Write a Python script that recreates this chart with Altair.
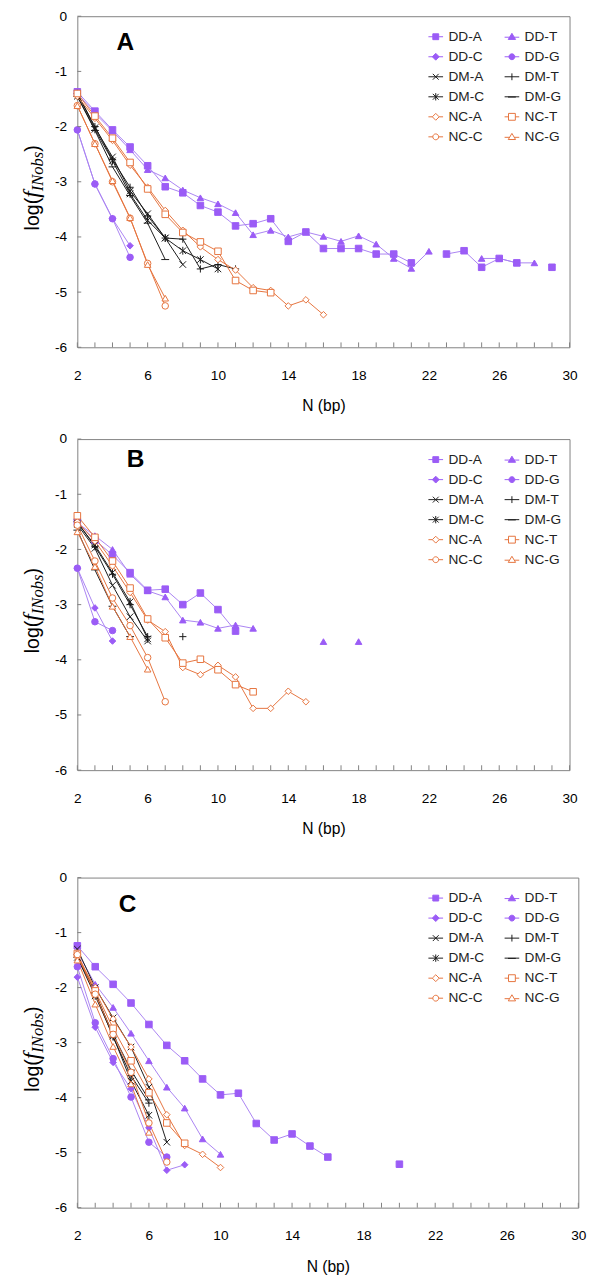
import altair as alt
import pandas as pd

FONT = "Liberation Sans"
SERIF = "Liberation Serif"
PURPLE = "#9b5cf6"
PURPLE_LINE = "#a982f2"
ORANGE = "#e5733c"
BLACK = "#1a1a1a"
AXIS_GRAY = "#808080"

N0 = 2
SERIES = ["DD-A", "DD-T", "DD-C", "DD-G", "DM-A", "DM-T", "DM-C", "DM-G",
          "NC-A", "NC-T", "NC-C", "NC-G"]
X_TICK_LABELS = [2, 6, 10, 14, 18, 22, 26, 30]
TICKS_X = list(range(2, 31))
TICKS_Y = [-6, -5, -4, -3, -2, -1, 0]

# ---- Panel A (values from N = 2 upward; None = no point) ----
A_VALUES = {
    "DD-A": [-1.37, -1.72, -2.06, -2.37, -2.71, -3.09, -3.20, -3.43, -3.55, -3.80, -3.76, -3.67,
             -4.08, -3.91, -4.21, -4.21, -4.21, -4.31, -4.31, -4.47, None, -4.31, -4.25, -4.55,
             -4.39, -4.47, None, -4.55],
    "DD-T": [-1.40, -1.76, -2.08, -2.42, -2.78, -2.93, -3.15, -3.29, -3.40, -3.56, -3.96, -3.88,
             -4.00, -3.91, -3.99, -4.08, -3.98, -4.13, -4.39, -4.57, -4.26, None, None, -4.39,
             -4.39, -4.47, -4.47],
    "DD-C": [-2.06, -3.04, -3.67, -4.16],
    "DD-G": [-2.06, -3.04, -3.67, -4.37],
    "DM-A": [-1.40, -2.02, -2.55, -3.17, -3.58, -4.02, -4.50],
    "DM-T": [-1.40, -2.00, -2.60, -3.10, -3.62, -4.02, -4.04, -4.58, -4.50, -4.58],
    "DM-C": [-1.45, -2.05, -2.62, -3.22, -3.70, -4.02, -4.25, -4.41, -4.58],
    "DM-G": [-1.45, -2.07, -2.73, -3.25, -3.75, -4.41],
    "NC-A": [-1.45, -1.85, -2.25, -2.70, -3.10, -3.52, -3.88, -4.18, -4.41, -4.60, -4.92, -4.97,
             -5.25, -5.14, -5.41],
    "NC-T": [-1.40, -1.81, -2.21, -2.65, -3.13, -3.59, -3.92, -4.09, -4.26, -4.79, -4.97, -5.01],
    "NC-C": [-1.62, -2.31, -3.00, -3.66, -4.48, -5.25],
    "NC-G": [-1.62, -2.31, -2.98, -3.65, -4.50, -5.11],
}

# ---- Panel B ----
B_VALUES = {
    "DD-A": [-1.50, -1.83, -2.10, -2.42, -2.74, -2.72, -3.00, -2.79, -3.09, -3.48],
    "DD-T": [-1.52, -1.75, -2.00, -2.45, -2.75, -2.86, -3.28, -3.32, -3.43, -3.37, -3.43,
             None, None, None, -3.67, None, -3.67],
    "DD-C": [-2.34, -3.06, -3.66],
    "DD-G": [-2.34, -3.31, -3.47],
    "DM-A": [-1.55, -1.98, -2.65, -3.22, -3.66],
    "DM-T": [-1.50, -1.95, -2.45, -3.00, -3.58, None, -3.58],
    "DM-C": [-1.52, -1.92, -2.42, -2.95, -3.62],
    "DM-G": [-1.65, -2.37, -3.03, -3.58],
    "NC-A": [-1.50, -1.85, -2.30, -2.78, -3.28, -3.49, -4.14, -4.27, -4.10, -4.31, -4.88, -4.88,
             -4.57, -4.76],
    "NC-T": [-1.39, -1.78, -2.21, -2.70, -3.26, -3.60, -4.06, -3.99, -4.18, -4.45, -4.58],
    "NC-C": [-1.56, -2.21, -2.88, -3.38, -3.96, -4.76],
    "NC-G": [-1.68, -2.31, -3.03, -3.58, -4.17],
}

# ---- Panel C ----
C_VALUES = {
    "DD-A": [-1.24, -1.62, -1.94, -2.28, -2.67, -3.05, -3.33, -3.66, -3.95, -3.92, -4.47, -4.77,
             -4.66, -4.88, -5.08, None, None, None, -5.21],
    "DD-T": [-1.35, -1.94, -2.36, -2.83, -3.33, -3.81, -4.19, -4.75, -5.03],
    "DD-C": [-1.81, -2.72, -3.36, -3.84, -4.55, -5.32, -5.22],
    "DD-G": [-1.62, -2.64, -3.29, -3.99, -4.81, -5.08],
    "DM-A": [-1.30, -2.00, -2.55, -3.08, -3.81, -4.81],
    "DM-T": [-1.40, -2.10, -2.90, -3.60, -4.10],
    "DM-C": [-1.45, -2.15, -2.88, -3.70, -4.32],
    "DM-G": [-1.45, -2.10, -2.85, -3.50, -4.04],
    "NC-A": [-1.45, -2.00, -2.57, -3.08, -3.66, -4.31, -4.87, -5.03, -5.27],
    "NC-T": [-1.38, -2.06, -2.74, -3.33, -3.91, -4.46, -4.83],
    "NC-C": [-1.40, -2.12, -2.85, -3.54, -4.46, -5.17],
    "NC-G": [-1.50, -2.30, -3.07, -3.75, -4.63],
}

# ---- styles ----
X_PATH = "M-1,-1L1,1M-1,1L1,-1"
PLUS_PATH = "M-1.1,0H1.1M0,-1.1V1.1"
AST_PATH = "M-1,-1L1,1M-1,1L1,-1M0,-1.2V1.2"
DASH_PATH = "M-1.2,0H1.2"
SHAPES = ["square", "triangle-up", "diamond", "circle", X_PATH, PLUS_PATH, AST_PATH, DASH_PATH,
          "diamond", "square", "circle", "triangle-up"]
FILLS = [PURPLE] * 4 + ["transparent"] * 4 + ["white"] * 4
STROKES = [PURPLE] * 4 + [BLACK] * 4 + [ORANGE] * 4
LINE_COLORS = [PURPLE_LINE] * 4 + [BLACK] * 4 + [ORANGE] * 4

CIRC = "M-0.6,0A0.6,0.6,0,1,0,0.6,0A0.6,0.6,0,1,0,-0.6,0Z"
LEG_SHAPE_BY_SERIES = {
    "DD-A": "M-1.5,0H1.5M-0.6,-0.6H0.6V0.6H-0.6Z",
    "DD-T": "M-1.5,0.1H1.5M0,-0.7L0.75,0.55H-0.75Z",
    "DD-C": "M-1.5,0H1.5M0,-0.7L0.7,0L0,0.7L-0.7,0Z",
    "DD-G": "M-1.5,0H1.5" + CIRC,
    "DM-A": "M-1.5,0H1.5M-0.6,-0.6L0.6,0.6M-0.6,0.6L0.6,-0.6",
    "DM-T": "M-1.5,0H1.5M0,-0.7V0.7",
    "DM-C": "M-1.5,0H1.5M-0.6,-0.6L0.6,0.6M-0.6,0.6L0.6,-0.6M0,-0.75V0.75",
    "DM-G": "M-1.5,0H1.5M-0.8,0.05H0.8",
    "NC-A": "M-1.5,0H-0.7M0.7,0H1.5M0,-0.7L0.7,0L0,0.7L-0.7,0Z",
    "NC-T": "M-1.5,0H-0.7M0.7,0H1.5M-0.7,-0.7H0.7V0.7H-0.7Z",
    "NC-C": "M-1.5,0H-0.6M0.6,0H1.5" + CIRC,
    "NC-G": "M-1.5,0.1H-0.5M0.5,0.1H1.5M0,-0.7L0.75,0.55H-0.75Z",
}
# legend entries fill columns first, so list them column by column
LEG_ORDER = ["DD-A", "DD-C", "DM-A", "DM-C", "NC-A", "NC-C",
             "DD-T", "DD-G", "DM-T", "DM-G", "NC-T", "NC-G"]
LEG_SHAPES = [LEG_SHAPE_BY_SERIES[s] for s in LEG_ORDER]
LEG_FILLS = [FILLS[SERIES.index(s)] for s in LEG_ORDER]
LEG_STROKES = [STROKES[SERIES.index(s)] for s in LEG_ORDER]


def to_long(values):
    rows = []
    for s in SERIES:
        seg, gap = 0, True
        for i, v in enumerate(values[s]):
            if v is None:
                gap = True
                continue
            if gap:
                seg += 1
                gap = False
            rows.append({"series": s, "N": N0 + i, "v": v, "seg": f"{s}-{seg}"})
    return pd.DataFrame(rows)


def panel(values, letter, W, H, letter_xy):
    df = to_long(values)
    xaxis = alt.Axis(values=X_TICK_LABELS, ticks=False, domain=False, grid=False,
                     labelFont=FONT, labelFontSize=14, labelColor="black", labelPadding=22,
                     labelFlush=False, title="N (bp)", titleFont=FONT, titleFontSize=16,
                     titleFontWeight="normal", titleColor="black", titlePadding=16)
    yaxis = alt.Axis(values=TICKS_Y, ticks=False, domain=False, grid=False,
                     labelFont=FONT, labelFontSize=14, labelColor="black", labelPadding=11,
                     labelFlush=False, labelExpr="'' + datum.value", title=None)
    xenc = alt.X("N:Q", scale=alt.Scale(domain=[2, 30], nice=False, zero=False), axis=xaxis)
    yenc = alt.Y("v:Q", scale=alt.Scale(domain=[-6, 0], nice=False, zero=False), axis=yaxis)

    lines = alt.Chart(df).mark_line(strokeWidth=1).encode(
        x=xenc, y=yenc,
        color=alt.Color("series:N", scale=alt.Scale(domain=SERIES, range=LINE_COLORS), legend=None),
        detail="seg:N", order="N:Q")

    pts = alt.Chart(df).mark_point(opacity=1, fillOpacity=1, strokeWidth=1, size=45).encode(
        x=xenc, y=yenc,
        shape=alt.Shape("series:N", scale=alt.Scale(domain=SERIES, range=SHAPES), legend=None),
        fill=alt.Fill("series:N", scale=alt.Scale(domain=SERIES, range=FILLS), legend=None),
        stroke=alt.Stroke("series:N", scale=alt.Scale(domain=SERIES, range=STROKES), legend=None))

    leg = alt.Legend(title=None, orient="none", legendX=360, legendY=14, columns=2,
                     columnPadding=18, rowPadding=6.5, symbolSize=100, symbolStrokeWidth=1,
                     labelFont=FONT, labelFontSize=14, labelColor="#222", labelOffset=6,
                     padding=0, labelLimit=200)
    legend_layer = alt.Chart(df).transform_filter("false").mark_point(
        opacity=1, fillOpacity=1, strokeWidth=1).encode(
        x=xenc, y=yenc,
        shape=alt.Shape("series:N", scale=alt.Scale(domain=LEG_ORDER, range=LEG_SHAPES), legend=leg),
        fill=alt.Fill("series:N", scale=alt.Scale(domain=LEG_ORDER, range=LEG_FILLS), legend=leg),
        stroke=alt.Stroke("series:N", scale=alt.Scale(domain=LEG_ORDER, range=LEG_STROKES), legend=leg))

    xt = alt.Chart(pd.DataFrame({"N": TICKS_X})).mark_rule(color=AXIS_GRAY, strokeWidth=1).encode(
        x=xenc, y=alt.value(H), y2=alt.value(H - 5))
    yt = alt.Chart(pd.DataFrame({"v": TICKS_Y})).mark_rule(color=AXIS_GRAY, strokeWidth=1).encode(
        y=yenc, x=alt.value(0), x2=alt.value(4))

    one = alt.Data(values=[{"k": 1}])
    letter_t = alt.Chart(one).mark_text(font=FONT, fontSize=25, fontWeight="bold", align="center",
                                        baseline="middle", color="black").encode(
        text=alt.value(letter), x=alt.value(letter_xy[0]), y=alt.value(letter_xy[1]))

    # y title "log(f INobs)" built from pieces (rotated, read bottom to top)
    top_end = 185
    pieces = [
        (")", FONT, 20, "normal", -39, top_end + 6.7),
        ("INobs", SERIF, 17, "italic", -35, top_end + 6.7 + 40.6),
        ("f", SERIF, 24, "italic", -39, top_end + 6.7 + 40.6 + 6.7),
        ("log(", FONT, 20, "normal", -39, top_end + 6.7 + 40.6 + 6.7 + 33.3),
    ]
    title_layers = []
    for txt, fnt, fs, style, px, py in pieces:
        title_layers.append(
            alt.Chart(one).mark_text(font=fnt, fontSize=fs, fontStyle=style, angle=270,
                                     align="left", baseline="alphabetic", color="black").encode(
                text=alt.value(txt), x=alt.value(px), y=alt.value(py - 53)))

    return alt.layer(lines, pts, legend_layer, xt, yt, letter_t, *title_layers).resolve_scale(
        shape="independent", fill="independent", stroke="independent"
    ).properties(width=W, height=H)


pA = panel(A_VALUES, "A", 504, 339, (49, 26.5))
pB = panel(B_VALUES, "B", 504, 339, (59.5, 20.5))
pC = panel(C_VALUES, "C", 513, 338, (51.5, 27))

chart = alt.vconcat(alt.vconcat(pA, pB, spacing=17), pC, spacing=33).properties(
    padding={"top": -15, "left": 12, "right": 5, "bottom": 5},
    background="white",
).configure_view(stroke=AXIS_GRAY, strokeWidth=1)

chart.save("out.html", embed_options={"renderer": "svg", "actions": False})
